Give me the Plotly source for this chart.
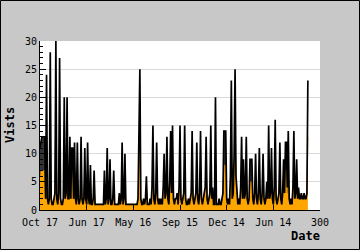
import plotly.graph_objects as go

# Index positions (0..287) along the date axis
tick_positions = [0, 50, 100, 150, 200, 250, 300]
tick_labels = ["Oct 17", "Jun 17", "May 16", "Sep 15", "Dec 14", "Jun 14", "300"]

visits = [
    11, 12, 13, 13, 13, 13, 2, 24, 2, 1, 2, 28, 2, 1, 1, 2, 3, 30, 2, 1,
    3, 27, 2, 1, 1, 2, 20, 2, 3, 20, 2, 2, 13, 2, 11, 11, 2, 12, 2, 1,
    12, 2, 1, 2, 13, 2, 1, 2, 11, 2, 1, 12, 2, 1, 8, 1, 1, 2, 7, 1,
    1, 1, 1, 1, 1, 1, 1, 1, 1, 7, 1, 2, 11, 1, 2, 9, 1, 1, 2, 7,
    1, 1, 1, 1, 1, 3, 1, 2, 12, 1, 2, 10, 1, 1, 1, 1, 1, 1, 1, 1,
    1, 1, 1, 1, 1, 2, 12, 25, 2, 1, 1, 2, 1, 2, 6, 1, 1, 1, 2, 1,
    4, 15, 2, 1, 3, 12, 2, 1, 2, 1, 2, 1, 4, 10, 2, 3, 13, 2, 1, 5,
    14, 3, 15, 2, 1, 2, 2, 3, 1, 4, 15, 2, 1, 2, 3, 15, 2, 1, 1, 2,
    1, 2, 3, 14, 2, 1, 2, 3, 12, 2, 1, 3, 14, 2, 1, 2, 3, 4, 13, 2,
    1, 2, 3, 15, 2, 4, 1, 1, 20, 1, 1, 1, 2, 1, 1, 2, 3, 14, 14, 14,
    2, 1, 2, 1, 6, 23, 2, 3, 10, 25, 6, 2, 1, 2, 1, 4, 13, 2, 9, 2,
    3, 13, 2, 1, 2, 9, 9, 9, 2, 1, 3, 10, 2, 1, 3, 11, 2, 1, 3, 10,
    2, 1, 2, 5, 2, 15, 2, 3, 11, 2, 1, 4, 16, 2, 1, 2, 3, 12, 2, 1,
    3, 9, 3, 12, 12, 4, 14, 2, 1, 2, 1, 4, 14, 2, 3, 9, 2, 4, 2, 2,
    3, 2, 2, 3, 2, 2, 3, 23,
]

unique = [
    6, 7, 7, 7, 7, 7, 2, 14, 2, 1, 2, 17, 2, 1, 1, 2, 3, 20, 2, 1,
    3, 15, 2, 1, 1, 2, 12, 2, 3, 12, 2, 2, 8, 2, 7, 7, 2, 7, 2, 1,
    7, 2, 1, 2, 8, 2, 1, 2, 7, 2, 1, 7, 2, 1, 5, 1, 1, 2, 4, 1,
    1, 1, 1, 1, 1, 1, 1, 1, 1, 4, 1, 2, 7, 1, 2, 5, 1, 1, 2, 4,
    1, 1, 1, 1, 1, 2, 1, 2, 7, 1, 2, 6, 1, 1, 1, 1, 1, 1, 1, 1,
    1, 1, 1, 1, 1, 2, 8, 20, 2, 1, 1, 2, 1, 2, 4, 1, 1, 1, 2, 1,
    3, 9, 2, 1, 3, 7, 2, 1, 2, 1, 2, 1, 3, 6, 2, 3, 8, 2, 1, 4,
    8, 3, 9, 2, 1, 2, 2, 3, 1, 3, 9, 2, 1, 2, 3, 9, 2, 1, 1, 2,
    1, 2, 3, 8, 2, 1, 2, 3, 7, 2, 1, 3, 8, 2, 1, 2, 3, 4, 8, 2,
    1, 2, 3, 9, 2, 3, 1, 1, 10, 1, 1, 1, 2, 1, 1, 2, 3, 8, 8, 8,
    2, 1, 2, 1, 4, 10, 2, 3, 6, 13, 6, 2, 1, 2, 1, 3, 8, 2, 5, 2,
    3, 8, 2, 1, 2, 5, 5, 5, 2, 1, 3, 6, 2, 1, 3, 7, 2, 1, 3, 6,
    2, 1, 2, 4, 2, 9, 2, 3, 7, 2, 1, 3, 10, 2, 1, 2, 3, 7, 2, 1,
    3, 5, 3, 7, 7, 3, 8, 2, 1, 2, 1, 3, 8, 2, 3, 5, 2, 3, 2, 2,
    3, 2, 2, 3, 2, 2, 3, 13,
]

x = list(range(len(visits)))

FONT = "DejaVu Sans Mono"

fig = go.Figure()
fig.add_trace(go.Scatter(
    x=x, y=unique, mode="lines", fill="tozeroy",
    fillcolor="#ffa500", line=dict(color="#b87400", width=0.8),
    showlegend=False, hoverinfo="skip",
))
fig.add_trace(go.Scatter(
    x=x, y=visits, mode="lines", fill="tonexty",
    fillcolor="rgba(30,30,30,0.9)", line=dict(color="black", width=1.7),
    showlegend=False, hoverinfo="skip",
))

L, R, T, B = 40, 40, 41, 40
W, H = 360, 250
pw, ph = W - L - R, H - T - B

def px_x(px):
    return (px - L) / pw

def px_y(py):
    return (H - B - py) / ph

fig.update_layout(
    width=W, height=H,
    margin=dict(l=L, r=R, t=T, b=B, pad=0),
    paper_bgcolor="#c8c8c8",
    plot_bgcolor="white",
    font=dict(family=FONT, size=10, color="black"),
    xaxis=dict(
        range=[0, 300], tickvals=tick_positions, ticktext=tick_labels,
        showgrid=False, zeroline=False, showline=True, linecolor="black",
        linewidth=1, ticks="inside", ticklen=5, tickcolor="black",
        ticklabelstandoff=3,
        tickfont=dict(family=FONT, size=10), fixedrange=True,
    ),
    yaxis=dict(
        range=[0, 30], dtick=5, tick0=0,
        showgrid=True, gridcolor="#d9d9d9", gridwidth=1,
        zeroline=False, showline=True, linecolor="black", linewidth=1,
        ticks="inside", ticklen=6, tickcolor="black",
        minor=dict(dtick=1, ticks="inside", ticklen=3, tickcolor="black", showgrid=False),
        tickfont=dict(family=FONT, size=10), fixedrange=True,
    ),
    shapes=[dict(
        type="rect", xref="paper", yref="paper",
        x0=px_x(0.5), x1=px_x(359.5), y0=px_y(249.5), y1=px_y(0.5),
        line=dict(color="black", width=1), fillcolor="rgba(0,0,0,0)", layer="above",
    )],
    annotations=[
        dict(text="<b>Date</b>", xref="paper", yref="paper",
             x=px_x(305.5), y=px_y(236), showarrow=False,
             font=dict(family=FONT, size=12), xanchor="center", yanchor="middle"),
        dict(text="<b>Vists</b>", xref="paper", yref="paper",
             x=px_x(10), y=px_y(125), showarrow=False, textangle=-90,
             font=dict(family=FONT, size=12), xanchor="center", yanchor="middle"),
    ],
)

fig.write_html("out.html")
